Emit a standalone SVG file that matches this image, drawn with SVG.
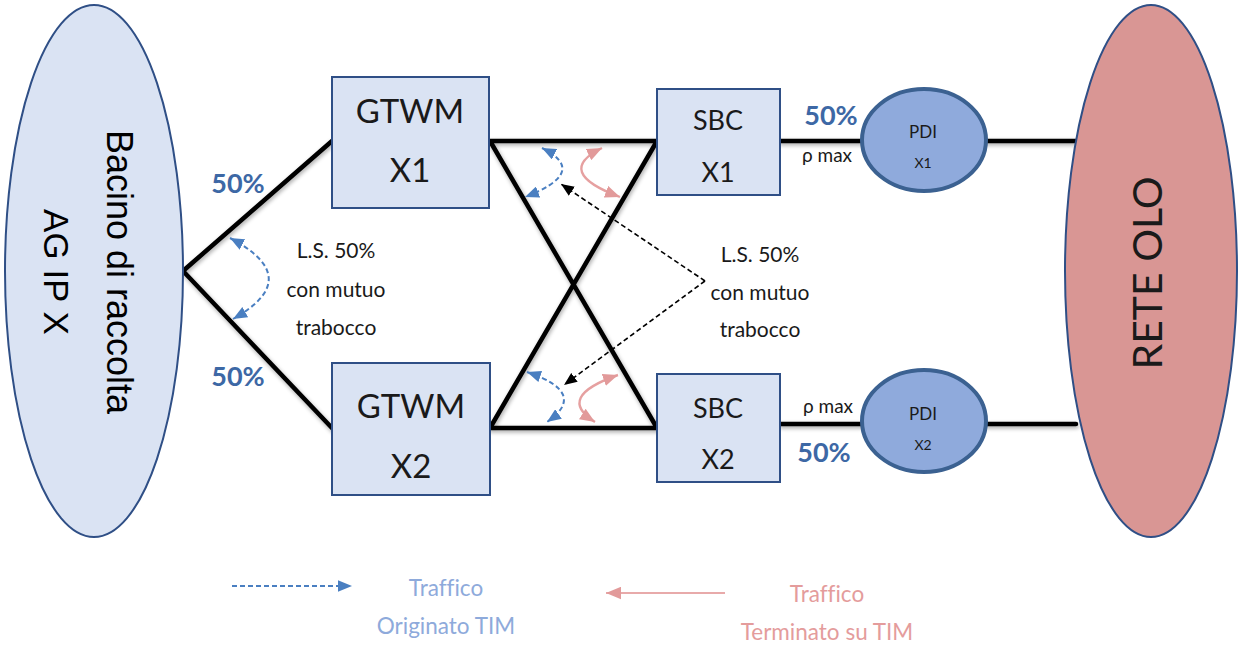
<svg xmlns="http://www.w3.org/2000/svg" width="1239" height="646" viewBox="0 0 1239 646">
<defs>
<style>
text{font-variant-ligatures:none}
.box{fill:#dae3f3;stroke:#2f4f86;stroke-width:2}
.pdi{fill:#8faadc;stroke:#3b6191;stroke-width:4}
.link{stroke:#000;stroke-width:4.5;fill:none;stroke-linecap:round}
.cal{font-family:Lato,"Open Sans","Liberation Sans",sans-serif;fill:#1a1a1a}
.ari{font-family:"Liberation Sans",Arial,sans-serif;fill:#000}
.pct{font-family:Lato,"Open Sans","Liberation Sans",sans-serif;font-weight:bold;fill:#3d68a5;font-size:27px}
.blue{stroke:#4a7fc1;stroke-width:2;stroke-dasharray:5 3;fill:none}
.pink{stroke:#e6a0a0;stroke-width:2.4;fill:none}
.blk{stroke:#000;stroke-width:1.6;stroke-dasharray:5 3;fill:none}
</style>
<filter id="sh" x="-10%" y="-10%" width="120%" height="120%"><feGaussianBlur in="SourceAlpha" stdDeviation="2"/><feOffset dx="1" dy="2"/><feComponentTransfer><feFuncA type="linear" slope="0.35"/></feComponentTransfer><feMerge><feMergeNode/><feMergeNode in="SourceGraphic"/></feMerge></filter>
<marker id="mb" viewBox="0 0 12 10" refX="12" refY="5" markerWidth="14" markerHeight="12" markerUnits="userSpaceOnUse" orient="auto-start-reverse"><path d="M0,0 L12,5 L0,10 z" fill="#4a7fc1"/></marker>
<marker id="mp" viewBox="0 0 12 10" refX="12" refY="5" markerWidth="15" markerHeight="13" markerUnits="userSpaceOnUse" orient="auto-start-reverse"><path d="M0,0 L12,5 L0,10 z" fill="#e29a9a"/></marker>
<marker id="mk" viewBox="0 0 12 10" refX="12" refY="5" markerWidth="13" markerHeight="11" markerUnits="userSpaceOnUse" orient="auto"><path d="M0,0 L12,5 L0,10 z" fill="#000"/></marker>
</defs>

<g id="connectors">
<g filter="url(#sh)">
<path class="link" d="M332,141 L183,271 L332,428"/>
<path class="link" d="M490,141 L657,141 M490,428 L657,428 M490,141 L657,428 M490,428 L657,141"/>
<path class="link" d="M780,141 L862,141 M986,141 L1076,141"/>
<path class="link" d="M780,424 L862,424 M986,424 L1076,424"/>
</g>
<path class="blue" d="M230,238 Q306,278 233,319" marker-start="url(#mb)" marker-end="url(#mb)"/>
<path class="blue" d="M542,148 Q590,172 525,197" marker-start="url(#mb)" marker-end="url(#mb)"/>
<path class="blue" d="M527,372 Q589,393 547,422" marker-start="url(#mb)" marker-end="url(#mb)"/>
<path class="pink" d="M602,148 Q553,172 620,197" marker-start="url(#mp)" marker-end="url(#mp)"/>
<path class="pink" d="M618,375 Q555,397 595,422" marker-start="url(#mp)" marker-end="url(#mp)"/>
<path class="blk" d="M705,281 L561,184" marker-end="url(#mk)"/>
<path class="blk" d="M705,281 L564,385" marker-end="url(#mk)"/>
</g>

<g id="bacino">
<ellipse cx="94" cy="271" rx="89" ry="266" fill="#dae3f3" stroke="#2f4f86" stroke-width="2"/>
<text class="ari" font-size="36" text-anchor="middle" transform="translate(107,272) rotate(90)">Bacino di raccolta</text>
<text class="ari" font-size="35" text-anchor="middle" transform="translate(44,272) rotate(90)">AG IP X</text>
</g>

<g id="rete-olo">
<ellipse cx="1151" cy="271" rx="86" ry="266" fill="#d99694" stroke="#2f4f86" stroke-width="2"/>
<text class="cal" font-size="41" text-anchor="middle" transform="translate(1162,273) rotate(-90)">RETE OLO</text>
</g>

<g id="gtwm-x1">
<rect class="box" x="332" y="77" width="157" height="131"/>
<text class="cal" font-size="33" text-anchor="middle" x="410" y="123">GTWM</text>
<text class="cal" font-size="33" text-anchor="middle" x="410" y="182">X1</text>
</g>
<g id="gtwm-x2">
<rect class="box" x="332" y="363" width="158" height="132"/>
<text class="cal" font-size="33" text-anchor="middle" x="411" y="418">GTWM</text>
<text class="cal" font-size="33" text-anchor="middle" x="411" y="478">X2</text>
</g>
<g id="sbc-x1">
<rect class="box" x="657" y="89" width="123" height="106"/>
<text class="cal" font-size="27" text-anchor="middle" x="718" y="130">SBC</text>
<text class="cal" font-size="27" text-anchor="middle" x="718" y="182">X1</text>
</g>
<g id="sbc-x2">
<rect class="box" x="657" y="374" width="123" height="108"/>
<text class="cal" font-size="27" text-anchor="middle" x="718" y="418">SBC</text>
<text class="cal" font-size="27" text-anchor="middle" x="718" y="469">X2</text>
</g>
<g id="pdi-x1">
<ellipse class="pdi" cx="924" cy="140" rx="62" ry="51"/>
<text class="cal" font-size="17" text-anchor="middle" x="923" y="138">PDI</text>
<text class="cal" font-size="14" text-anchor="middle" x="923" y="168">X1</text>
</g>
<g id="pdi-x2">
<ellipse class="pdi" cx="924" cy="421" rx="62" ry="51"/>
<text class="cal" font-size="17" text-anchor="middle" x="923" y="420">PDI</text>
<text class="cal" font-size="14" text-anchor="middle" x="923" y="450">X2</text>
</g>

<g id="labels">
<text class="pct" x="238" y="193" text-anchor="middle">50%</text>
<text class="pct" x="238" y="386" text-anchor="middle">50%</text>
<text class="pct" x="831" y="125" text-anchor="middle">50%</text>
<text class="pct" x="824" y="462" text-anchor="middle">50%</text>
<text class="cal" font-size="19" x="827" y="162" text-anchor="middle">ρ max</text>
<text class="cal" font-size="19" x="828" y="413" text-anchor="middle">ρ max</text>
<g class="cal" font-size="21" text-anchor="middle">
<text x="336" y="258">L.S. 50%</text>
<text x="336" y="297">con mutuo</text>
<text x="336" y="335">trabocco</text>
<text x="760" y="262">L.S. 50%</text>
<text x="760" y="300">con mutuo</text>
<text x="760" y="337">trabocco</text>
</g>
</g>

<g id="legend">
<path class="blue" d="M232,586 L352,586" marker-end="url(#mb)"/>
<line x1="725" y1="593" x2="606" y2="593" stroke="#e8aaaa" stroke-width="2" marker-end="url(#mp)"/>
<g font-family="Lato,'Open Sans','Liberation Sans',sans-serif" font-size="22.5" text-anchor="middle">
<text x="446" y="596" fill="#8eaadb">Traffico</text>
<text x="446" y="634" fill="#8eaadb">Originato TIM</text>
<text x="827" y="602" fill="#e49c9c">Traffico</text>
<text x="827" y="640" fill="#e49c9c">Terminato su TIM</text>
</g>
</g>
</svg>
